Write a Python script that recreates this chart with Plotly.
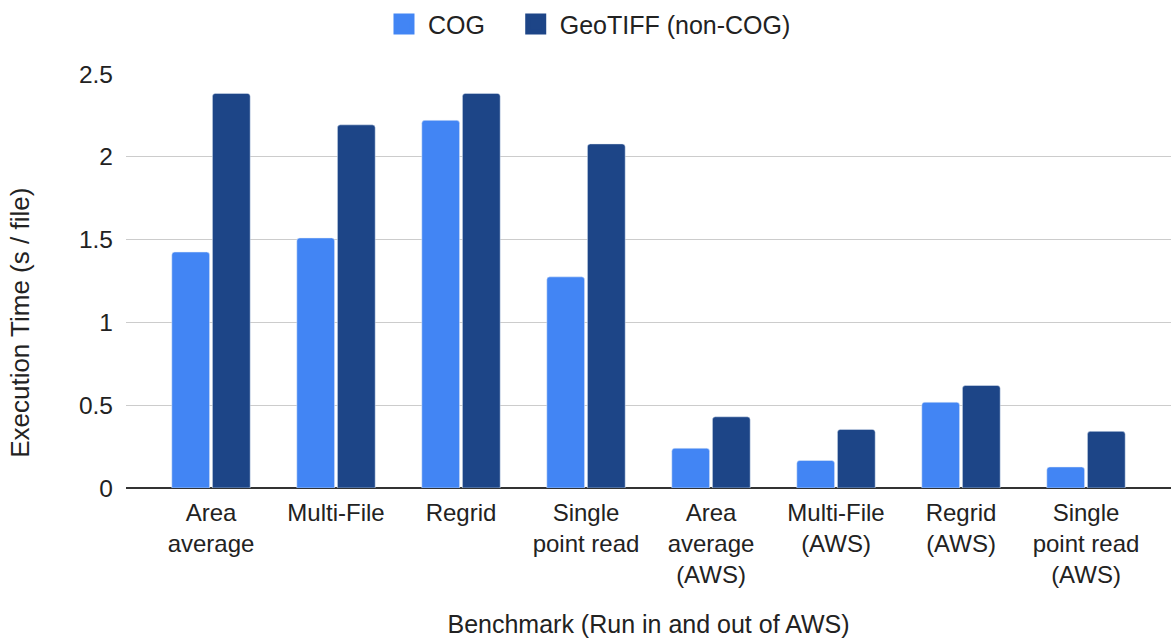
import plotly.graph_objects as go

categories = [
    "Area<br>average", "Multi-File", "Regrid", "Single<br>point read",
    "Area<br>average<br>(AWS)", "Multi-File<br>(AWS)", "Regrid<br>(AWS)",
    "Single<br>point read<br>(AWS)",
]
cog = [1.425, 1.51, 2.22, 1.275, 0.24, 0.166, 0.518, 0.127]
geotiff = [2.383, 2.193, 2.383, 2.078, 0.43, 0.354, 0.619, 0.342]
y_ticks = [0, 0.5, 1, 1.5, 2, 2.5]
y_tick_labels = ["0", "0.5", "1", "1.5", "2", "2.5"]
y_title = "Execution Time (s / file)"
x_title = "Benchmark (Run in and out of AWS)"

COG_COLOR = "#4285f4"
GEO_COLOR = "#1d4587"
FONT = "Liberation Sans, Arial, sans-serif"
TXT = "#222222"

fig = go.Figure()
fig.add_trace(go.Bar(x=categories, y=cog, name="COG", marker=dict(color=COG_COLOR, cornerradius=3),
                     showlegend=False))
fig.add_trace(go.Bar(x=categories, y=geotiff, name="GeoTIFF (non-COG)",
                     marker=dict(color=GEO_COLOR, cornerradius=3), showlegend=False))
# legend-only entries (larger square swatches)
for nm, col, lg in [("COG", COG_COLOR, "legend"), ("GeoTIFF (non-COG)", GEO_COLOR, "legend2")]:
    fig.add_trace(go.Scatter(x=[None], y=[None], mode="markers", name=nm, legend=lg,
                             marker=dict(symbol="square", size=30, color=col,
                                         line=dict(color=col, width=5))))

fig.add_annotation(text=y_title, textangle=-90, xref="paper", yref="paper",
                   x=-0.101, y=0.40, xanchor="center", yanchor="middle",
                   showarrow=False, font=dict(size=26, color=TXT))

legend_common = dict(orientation="h", xref="container", yref="container", xanchor="left",
                     y=0.998, yanchor="top", font=dict(size=25, color=TXT), itemwidth=38)

fig.update_layout(
    width=1171, height=638,
    margin=dict(l=126, r=0, t=74, b=150),
    paper_bgcolor="white", plot_bgcolor="white",
    font=dict(family=FONT, size=24, color=TXT),
    barmode="group", bargap=0.35, bargroupgap=0.07,
    legend=dict(x=0.3245, **legend_common),
    legend2=dict(x=0.437, **legend_common),
    xaxis=dict(
        range=[-0.68, 7.68], showgrid=False, showline=False, zeroline=False,
        tickfont=dict(size=24, color=TXT), ticks="", ticklabelstandoff=8,
        title=dict(text=x_title, font=dict(size=25, color=TXT), standoff=30),
    ),
    yaxis=dict(
        range=[0, 2.5], tickvals=y_ticks, ticktext=y_tick_labels,
        showgrid=True, gridcolor="#cccccc", gridwidth=1,
        zeroline=True, zerolinecolor="#333333", zerolinewidth=1.5,
        tickfont=dict(size=24.5, color=TXT), ticklabelstandoff=12,
    ),
)

fig.write_html("out.html", config={"displayModeBar": False},
               post_script="document.body.style.margin='0';")
